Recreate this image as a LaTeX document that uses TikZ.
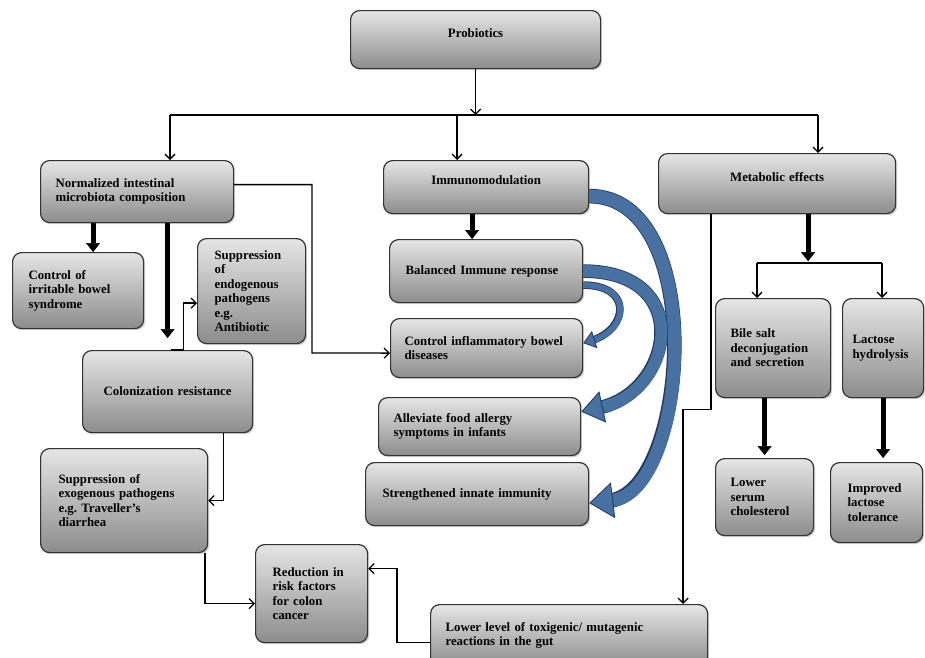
\documentclass[tikz,border=0pt]{standalone}
\usepackage{fontspec}
\setmainfont{Liberation Serif}
\usetikzlibrary{arrows.meta, shadows}

\definecolor{bandblue}{RGB}{72,112,160}
\definecolor{banddark}{RGB}{32,58,96}

\tikzset{
  box/.style={draw=black!80, line width=1.2pt, rounded corners=9pt,
    top color=black!10, bottom color=black!45,
    drop shadow={opacity=.35, shadow xshift=1.6pt, shadow yshift=-1.6pt},
    anchor=north west, inner ysep=0pt, align=left,
    font=\bfseries\fontsize{12.8}{14.5}\selectfont},
  ctext/.style={align=center, inner xsep=0pt},
  conn/.style={line width=1.3pt, -{Straight Barb[length=5pt, width=10pt]}},
  fat/.style={line width=5pt, -{Triangle[length=9pt, width=14pt, line width=0.5pt]}},
  band/.style 2 args={draw=bandblue, line width=#1,
    preaction={draw=banddark, line width=#1+1.6pt, -, shorten >=#2}},
}

\begin{document}
\begin{tikzpicture}[x=1pt, y=-1pt]

    % Page frame
    \useasboundingbox (0,0) rectangle (925,657);
    \clip (0,0) rectangle (925,657);
    \fill[white] (0,0) rectangle (925,657);

    % Top and first row
    \node[box, ctext, text width=250pt, minimum height=58pt, text height=9pt, text depth=13pt] (probio) at (350,10) {Probiotics};
    \node[box, text width=163pt, inner xsep=15pt, minimum height=62pt] (norm) at (40,160) {Normalized intestinal\\microbiota composition};
    \node[box, ctext, text width=205pt, minimum height=53pt, text height=9pt, text depth=14pt] (immuno) at (383,160) {Immunomodulation};
    \node[box, ctext, text width=237pt, minimum height=60pt, text height=9pt, text depth=13pt] (meta) at (658,153) {Metabolic effects};

    % Left column
    \node[box, text width=99pt, inner xsep=16pt, minimum height=76pt] (ibs) at (12,252) {Control of\\irritable bowel\\syndrome};
    \node[box, text width=74pt, inner xsep=17pt, minimum height=105pt] (endo) at (197,238) {Suppression\\of\\endogenous\\pathogens\\e.g.\\Antibiotic};
    \node[box, ctext, text width=170pt, minimum height=82pt] (colon) at (82,350) {Colonization resistance};
    \node[box, text width=131pt, inner xsep=18pt, minimum height=104pt] (exo) at (40,448) {Suppression of\\exogenous pathogens\\e.g.\ Traveller's\\diarrhea};
    \node[box, text width=78pt, inner xsep=17pt, minimum height=98pt] (reduce) at (255,544) {Reduction in\\risk factors\\for colon\\cancer};

    % Middle column
    \node[box, text width=161pt, inner xsep=16pt, minimum height=63pt] (bal) at (389,239) {Balanced Immune response};
    \node[box, text width=164pt, inner xsep=14pt, minimum height=59pt] (ibd) at (390,318) {Control inflammatory bowel\\diseases};
    \node[box, text width=172pt, inner xsep=15pt, minimum height=58pt] (allergy) at (378,397) {Alleviate food allergy\\symptoms in infants};
    \node[box, text width=189pt, inner xsep=17pt, minimum height=63pt] (innate) at (365,462) {Strengthened innate immunity};
    \node[box, text width=247pt, inner xsep=15pt, minimum height=62pt] (toxic) at (430,604) {Lower level of toxigenic/ mutagenic\\reactions in the gut};

    % Right column
    \node[box, text width=85pt, inner xsep=15pt, minimum height=99pt] (bile) at (715,298) {Bile salt\\deconjugation\\and secretion};
    \node[box, text width=61pt, inner xsep=10pt, minimum height=99pt] (lact) at (842,298) {Lactose\\hydrolysis};
    \node[box, text width=68pt, inner xsep=15pt, minimum height=77pt] (serum) at (715,458) {Lower\\serum\\cholesterol};
    \node[box, text width=58pt, inner xsep=17pt, minimum height=80pt] (improved) at (830,462) {Improved\\lactose\\tolerance};

    % Bus lines
    \coordinate (busL) at (170,115);
    \coordinate (busM) at (457,115);
    \coordinate (busR) at (818,115);
    \coordinate (splitL) at (757,263);
    \coordinate (splitR) at (882,263);
    \coordinate (kneeA) at (312,353);

    \draw[conn] (probio.south) -- (probio.south |- busL);
    \draw[line width=1.3pt] (busL) -- (busR);
    \draw[conn] (busL) -- (busL |- norm.north);
    \draw[conn] (busM) -- (busM |- immuno.north);
    \draw[conn] (busR) -- (busR |- meta.north);

    % Left side connectors
    \draw[fat] ([xshift=15pt]ibs.north |- norm.south) -- ([xshift=15pt]ibs.north);
    \draw[fat] (colon.north |- norm.south) -- ([yshift=12pt]colon.north);
    \draw[conn] ([yshift=7pt]norm.east) -| (kneeA) -- ([yshift=-5pt]ibd.west);
    \draw[conn] ([xshift=3pt]colon.north) -- ++(13,0) |- ([yshift=-12pt]endo.west);
    \draw[conn] ([xshift=56pt]colon.south) |- (exo.east);
    \draw[conn] ([xshift=81pt]exo.south) |- ([yshift=-10pt]reduce.west);
    \draw[conn] ([yshift=-7pt]toxic.west) -- ++(-33,0) |- ([yshift=25pt]reduce.east);

    % Middle and right connectors
    \draw[fat] ([xshift=-14pt]immuno.south) -- ([xshift=-14pt]bal.north);
    \draw[conn] ([xshift=-66pt]meta.south) -- ++(0,195) -| ([xshift=114pt]toxic.north);
    \draw[fat] ([xshift=31pt]meta.south) -- ++(0,47);
    \draw[line width=1.3pt] (splitL) -- (splitR);
    \draw[conn] (splitL) -- (splitL |- bile.north);
    \draw[conn] (splitR) -- (splitR |- lact.north);
    \draw[fat] (serum.north |- bile.south) -- ([yshift=3pt]serum.north);
    \draw[fat] (lact.south) -- ([yshift=4pt]lact.south |- improved.north);

    % Curved blue arrows
    \draw[band={13pt}{21pt}, -{Triangle[width=36pt, length=24pt, line width=0.8pt, fill=bandblue, color=banddark]}]
        ([yshift=-9pt]immuno.east) .. controls +(120,0) and +(100,-12) .. ([yshift=-9pt]innate.east);
    \draw[band={12pt}{19pt}, -{Triangle[width=32pt, length=22pt, line width=0.8pt, fill=bandblue, color=banddark]}]
        (bal.east) .. controls +(112,0) and +(92,-20) .. ([yshift=15pt]allergy.east);
    \draw[band={6pt}{9pt}, -{Triangle[width=18pt, length=12pt, line width=0.8pt, fill=bandblue, color=banddark]}]
        ([yshift=-14pt]bal.east) .. controls +(50,0) and +(45,-14) .. ([yshift=5pt]ibd.east);

\end{tikzpicture}
\end{document}
